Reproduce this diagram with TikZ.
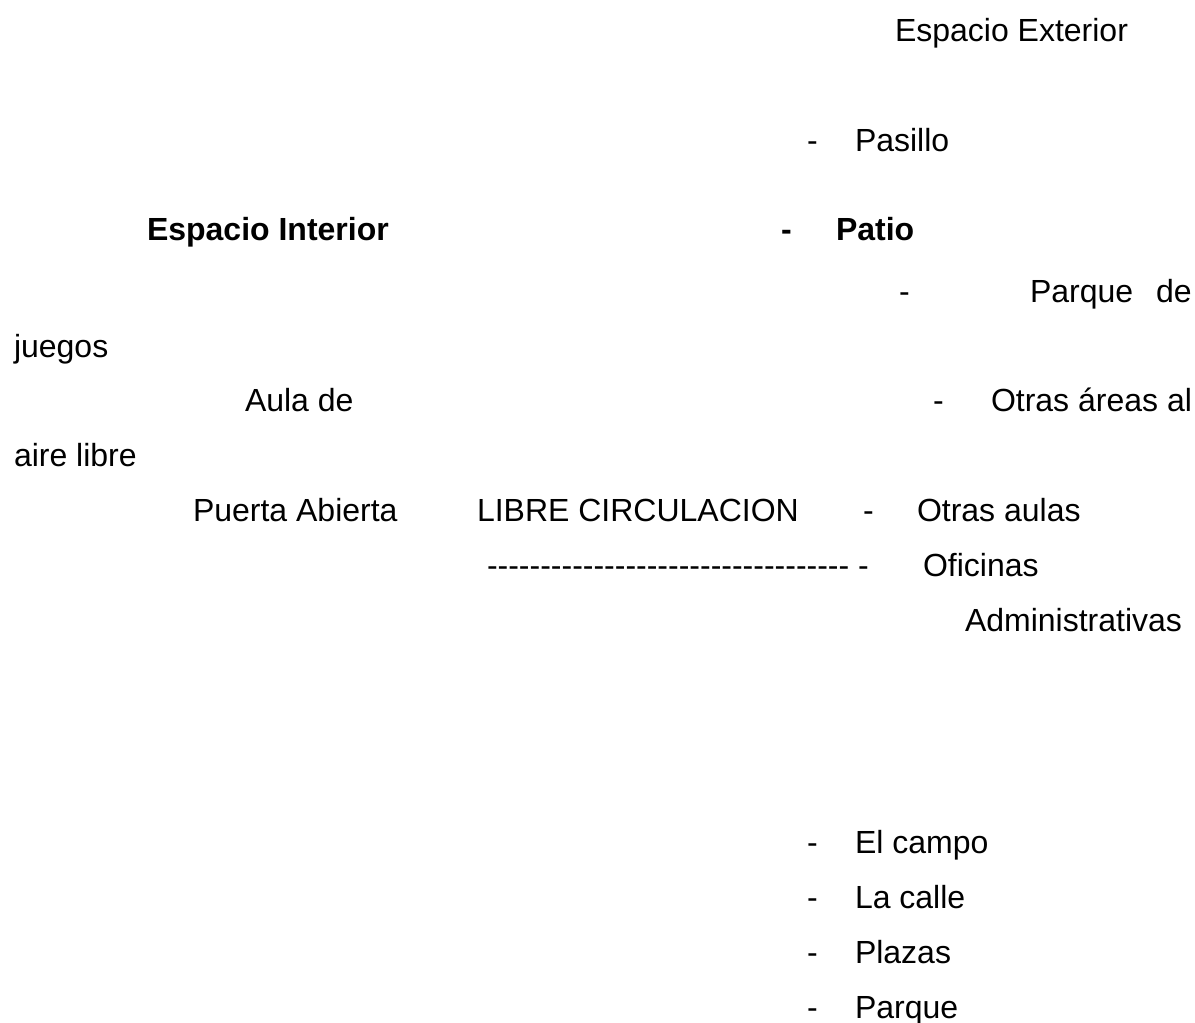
\documentclass[tikz,border=0pt]{standalone}
\usepackage{fontspec}
\setmainfont{Liberation Sans}
\begin{document}
\begin{tikzpicture}[x=1pt,y=-1pt,
  txt/.style={anchor=base west,inner sep=0pt,outer sep=0pt,font=\fontsize{32}{38}\selectfont},
  btxt/.style={txt,font=\fontsize{32}{38}\selectfont\bfseries}]
\useasboundingbox[fill=white] (0,0) rectangle (1195,1023);
% top
\node[txt] (ext) at (895,41) {Espacio Exterior};
\node[txt] (d1) at (807,151) {-};
\node[txt] (pasillo) at (855,151) {Pasillo};
\node[btxt] (int) at (147,240) {Espacio Interior};
\node[btxt] (d2) at (781,240) {-};
\node[btxt] (patio) at (836,240) {Patio};
\node[txt] (d3) at (899,302) {-};
\node[txt] (parque1) at (1030,302) {Parque};
\node[txt] (de1) at (1156,302) {de};
\node[txt] (juegos) at (14,357) {juegos};
\node[txt] (aula) at (245,411) {Aula de};
\node[txt] (d4) at (933,411) {-};
\node[txt] (otras1) at (991,411) {Otras áreas al};
\node[txt] (aire) at (14,466) {aire libre};
\node[txt] (puerta) at (193,521) {Puerta Abierta};
\node[txt] (libre) at (477,521) {LIBRE CIRCULACION};
\node[txt] (d5) at (863,521) {-};
\node[txt] (otras2) at (917,521) {Otras aulas};
\node[txt] (dashes) at (487,576) {\foreach \k in {1,...,34}{-\kern0pt}\ -};
\node[txt] (ofi) at (923,576) {Oficinas};
\node[txt] (adm) at (965,631) {Administrativas};
% bottom list
\node[txt] (d6) at (807,853) {-};
\node[txt] (campo) at (855,853) {El campo};
\node[txt] (d7) at (807,908) {-};
\node[txt] (calle) at (855,908) {La calle};
\node[txt] (d8) at (807,963) {-};
\node[txt] (plazas) at (855,963) {Plazas};
\node[txt] (d9) at (807,1018) {-};
\node[txt] (parque2) at (855,1018) {Parque};
\end{tikzpicture}
\end{document}
